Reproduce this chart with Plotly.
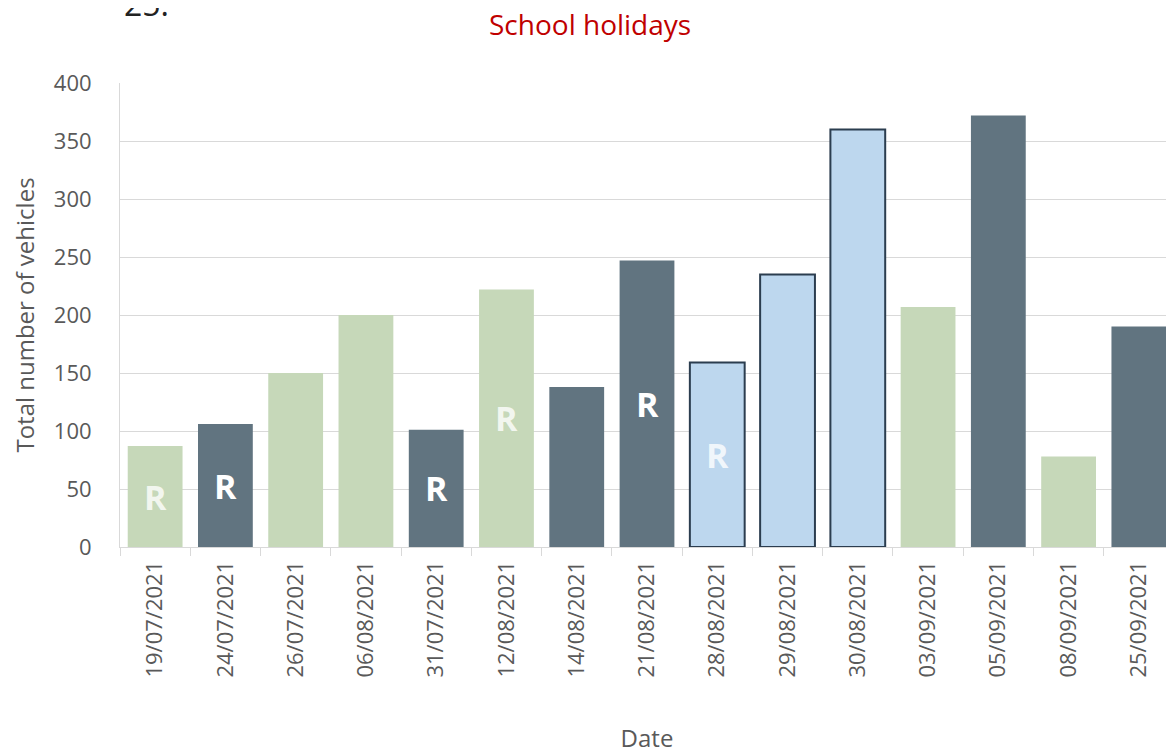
import plotly.graph_objects as go

dates = ["19/07/2021", "24/07/2021", "26/07/2021", "06/08/2021", "31/07/2021",
         "12/08/2021", "14/08/2021", "21/08/2021", "28/08/2021", "29/08/2021",
         "30/08/2021", "03/09/2021", "05/09/2021", "08/09/2021", "25/09/2021"]
vehicles = [87, 106, 150, 200, 101, 222, 138, 247, 159, 235, 360, 207, 372, 78, 190]
groups = ["green", "dark", "green", "green", "dark", "green", "dark", "dark",
          "blue", "blue", "blue", "green", "dark", "green", "dark"]
r_marked = [True, True, False, False, True, True, False, True, True,
            False, False, False, False, False, False]

fill = {"green": "#c6d8b9", "dark": "#617480", "blue": "#bdd7ee"}
edge = {"green": "#c6d8b9", "dark": "#617480", "blue": "#2b3d4f"}
edge_w = {"green": 0, "dark": 0, "blue": 2}

fig = go.Figure(go.Bar(
    x=dates,
    y=vehicles,
    marker=dict(
        color=[fill[g] for g in groups],
        line=dict(color=[edge[g] for g in groups], width=[edge_w[g] for g in groups]),
    ),
    hoverinfo="x+y",
))

# "R" markers sit at half bar height
for d, v, g, r in zip(dates, vehicles, groups, r_marked):
    if not r:
        continue
    col = "#ffffff" if g == "dark" else "rgba(255,255,255,0.8)"
    fig.add_annotation(x=d, y=v / 2, text="<b>R</b>", showarrow=False,
                       font=dict(family="Open Sans", size=34, color=col))

fig.add_annotation(xref="paper", yref="paper", x=0.446, y=1.0, yanchor="bottom", yshift=39,
                   borderpad=0, text="School holidays", showarrow=False,
                   font=dict(family="Open Sans", size=28, color="#c00000"))
fig.add_annotation(xref="paper", yref="paper", x=0.0, xanchor="left", xshift=2,
                   y=1.0, yanchor="bottom", yshift=56,
                   text="25.", showarrow=False,
                   font=dict(family="Open Sans", size=32, color="#222222"))

# the page body adds an 8px offset, so the figure is 8px smaller than the window
fig.update_layout(
    width=1166, height=746,
    margin=dict(l=112, r=0, t=75, b=207),
    plot_bgcolor="white", paper_bgcolor="white",
    font=dict(family="Open Sans", color="#595959"),
    bargap=0.22,
    showlegend=False,
)
fig.update_xaxes(
    type="category", range=[-0.5, 14.5],
    tickangle=-90, tickfont=dict(size=22, color="#595959"),
    ticks="outside", tickson="boundaries", ticklen=8, tickcolor="#d9d9d9",
    ticklabelstandoff=4,
    showline=True, linecolor="#d9d9d9", linewidth=1,
    title=dict(text="Date", font=dict(size=24, color="#595959"), standoff=56),
)
fig.update_yaxes(
    range=[0, 400], dtick=50,
    tickfont=dict(size=22, color="#595959"),
    showgrid=True, gridcolor="#d9d9d9", gridwidth=1,
    showline=True, linecolor="#d9d9d9", zeroline=False,
    ticklabelstandoff=23,
    title=dict(text="Total number of vehicles", font=dict(size=24, color="#595959"), standoff=12),
)

fig.write_html("out.html")
